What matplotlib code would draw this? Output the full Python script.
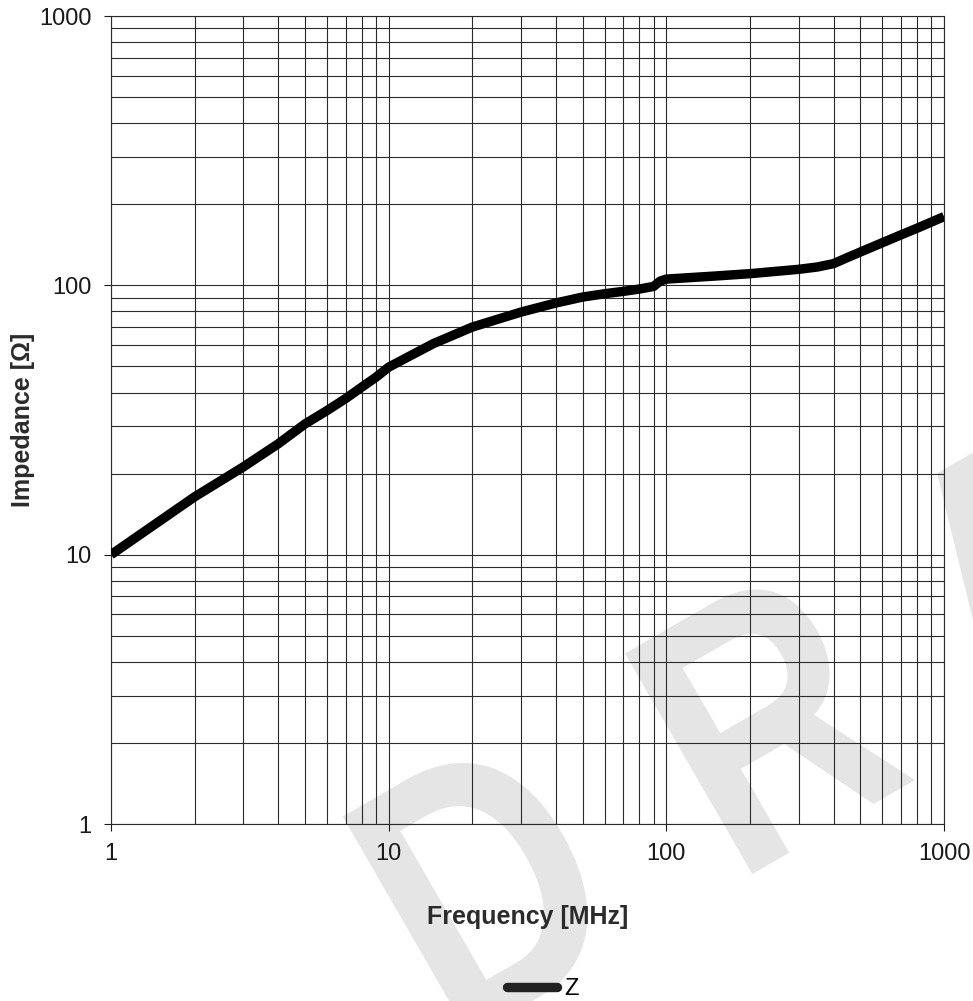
import numpy as np
import matplotlib
matplotlib.use("Agg")
import matplotlib.pyplot as plt
from matplotlib.ticker import LogLocator, NullFormatter, FixedLocator, FixedFormatter
from matplotlib.textpath import TextPath
from matplotlib.font_manager import FontProperties
from matplotlib.patches import PathPatch
from matplotlib.transforms import Affine2D, IdentityTransform

# impedance curve
freq_mhz = [1, 2, 3, 4, 5, 6, 7, 8, 9, 10, 14.5, 20, 30, 40, 50, 60, 70, 80,
            90, 95, 100, 150, 200, 300, 350, 400, 450, 500, 600, 700, 800, 1000]
impedance = [10, 16.4, 21.2, 25.8, 30.6, 34.3, 38.0, 41.9, 45.6, 49.7, 60.8, 70,
             79.6, 86, 90.5, 93.1, 95, 96.9, 99.1, 103.7, 105.5, 108.3, 110.5,
             114.7, 117, 120.4, 127, 133, 144, 154, 163, 180]

major_ticks = [1, 10, 100, 1000]
major_labels = ["1", "10", "100", "1000"]

plt.rcParams['font.family'] = ['Liberation Sans', 'DejaVu Sans']

fig = plt.figure(figsize=(9.73, 10.01), dpi=100)


def add_watermark(fig, word, start, pitch, shifts, cap, squeeze, angle):
    """ draw a spaced, narrowed watermark word behind the plot (pixel coords)"""
    fp = FontProperties(family='Liberation Sans', weight='bold')
    rad = np.deg2rad(angle)
    ux, uy = np.cos(rad), np.sin(rad)
    for i, ch in enumerate(word):
        p = TextPath((0, 0), ch, size=100, prop=fp)
        ext = p.get_extents()
        s = cap / 71.6
        d = i * pitch + shifts[i]
        tr = (Affine2D().translate(-ext.x0, 0).scale(s * squeeze, s)
              .rotate_deg(angle).translate(start[0] + d * ux, start[1] + d * uy))
        patch = PathPatch(tr.transform_path(p), facecolor='#e5e5e5', edgecolor='none',
                          transform=IdentityTransform(), zorder=-5)
        fig.add_artist(patch)


add_watermark(fig, "DRAFT", start=(470, -36), pitch=326, shifts=[0, 0, -40, -40, -40],
              cap=265, squeeze=0.8, angle=30)

ax = fig.add_axes([0.1141, 0.1768, 0.8561, 0.8072])
ax.patch.set_alpha(0)
ax.set_xscale('log')
ax.set_yscale('log')
ax.set_xlim(1, 1000)
ax.set_ylim(1, 1000)

ax.plot(freq_mhz, impedance, color='black', lw=6.8, solid_capstyle='butt', label='Z', zorder=3)

# grid on every decade step
ax.xaxis.set_minor_locator(LogLocator(base=10, subs=np.arange(2, 10)))
ax.yaxis.set_minor_locator(LogLocator(base=10, subs=np.arange(2, 10)))
ax.xaxis.set_minor_formatter(NullFormatter())
ax.yaxis.set_minor_formatter(NullFormatter())
ax.xaxis.set_major_locator(FixedLocator(major_ticks))
ax.yaxis.set_major_locator(FixedLocator(major_ticks))
ax.xaxis.set_major_formatter(FixedFormatter(major_labels))
ax.yaxis.set_major_formatter(FixedFormatter(major_labels))
ax.grid(True, which='both', color='#2a2a2a', lw=0.8)
ax.tick_params(which='minor', length=0)
ax.tick_params(which='major', length=5, width=0.8, direction='out', pad=9,
               labelsize=17, colors='#1a1a1a')
for s in ax.spines.values():
    s.set_color('#2a2a2a')
    s.set_linewidth(0.8)

ax.set_xlabel("Frequency [MHz]", fontsize=18, fontweight='bold', color='#2b2b2b')
ax.set_ylabel("Impedance [Ω]", fontsize=18, fontweight='bold', color='#2b2b2b')
ax.xaxis.set_label_coords(0.5, -0.115)
ax.yaxis.set_label_coords(-0.1056, 0.5)
ax.xaxis.label.set_va('center')
ax.yaxis.label.set_va('center')

leg = fig.legend(loc='center', bbox_to_anchor=(543 / 973, 1 - 989 / 1001), frameon=False,
                 fontsize=17, handlelength=2.1, handletextpad=0.3)
for h in leg.legend_handles:
    h.set_color('#222222')
    h.set_solid_capstyle('round')

fig.savefig("out.png", dpi=100)
